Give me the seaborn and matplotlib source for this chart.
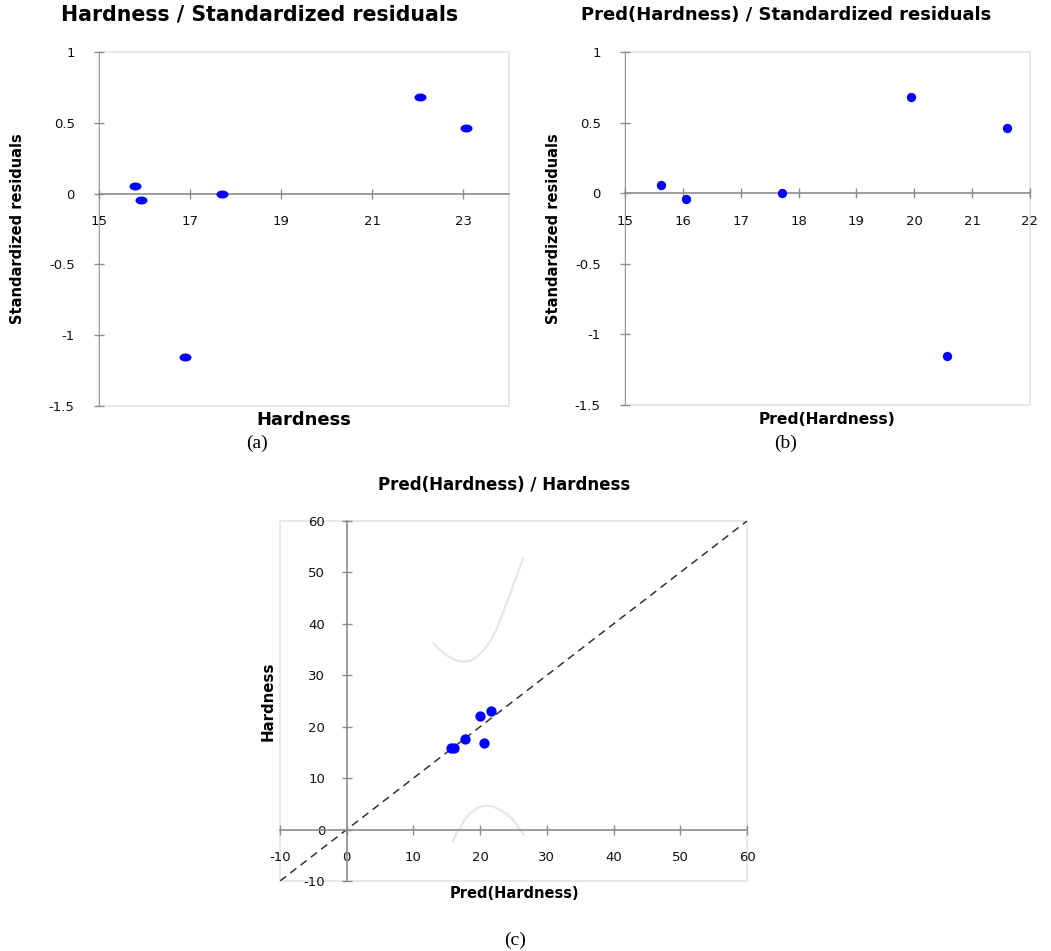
import numpy as np
import pandas as pd
import matplotlib
matplotlib.use('Agg')
import matplotlib.pyplot as plt
from matplotlib.patches import Rectangle
from matplotlib.path import Path
import seaborn as sns

# Daten
hardness = [15.80, 15.93, 17.70, 22.05, 23.05, 16.88]
pred_hardness = [15.62, 16.05, 17.71, 19.94, 21.60, 20.57]
std_resid = [0.055, -0.044, 0.0, 0.68, 0.462, -1.155]

# Konfidenzkurven (Diagramm c)
upper_x = [12.96, 14.0, 14.97, 16.2, 17.46, 18.5, 19.47, 20.5, 21.47, 22.5, 23.46, 24.2, 24.96, 25.7, 26.46]
upper_y = [36.2, 34.9, 33.9, 33.0, 32.6, 32.8, 33.6, 34.8, 36.5, 39.0, 42.3, 44.8, 47.5, 50.1, 52.8]
lower_x = [15.87, 16.4, 16.97, 17.7, 18.47, 19.6, 20.72, 21.9, 22.97, 23.9, 24.72, 25.4, 25.97, 26.57]
lower_y = [-2.33, -0.9, 0.27, 1.9, 3.18, 4.2, 4.66, 4.5, 3.83, 3.1, 2.21, 1.1, -0.06, -1.03]
diag = [-10, 60]

df = pd.DataFrame({'Hardness': hardness, 'Pred': pred_hardness, 'Resid': std_resid})

sns.set_style('white')
plt.rcParams['font.family'] = ['DejaVu Sans']
plt.rcParams['axes.unicode_minus'] = False
plt.rcParams['text.color'] = 'black'

W, H = 1051, 951
fig = plt.figure(figsize=(W / 100, H / 100), dpi=100)

AXIS = '#8c8c8c'
FRAME = '#e4e4e4'
BLUE = '#0000ff'

# Ellipsen-Marker
t = np.linspace(0, 2 * np.pi, 40)
ell = Path(np.column_stack([1.5 * np.cos(t), np.sin(t)]), closed=True)


def frame_axes(ax):
    for s in ax.spines.values():
        s.set_visible(False)
    ax.add_patch(Rectangle((0, 0), 1, 1, transform=ax.transAxes, fill=False,
                           edgecolor=FRAME, lw=1.2, zorder=0, clip_on=False))
    ax.tick_params(direction='inout', length=7, width=1, color=AXIS,
                   labelsize=9.5, labelcolor='#111111', bottom=True, left=True)


def resid_plot(rect, xcol, xlim, xticks, title, tsize, tx, xlabel, xsize, ylx,
               caption, cap_x, marker, msize):
    ax = fig.add_axes(rect)
    sns.scatterplot(data=df, x=xcol, y='Resid', ax=ax, color=BLUE, marker=marker,
                    s=msize, edgecolor=BLUE, linewidth=0, zorder=3)
    ax.set_xlim(*xlim)
    ax.set_ylim(-1.5, 1)
    frame_axes(ax)
    ax.axvline(xlim[0], color=AXIS, lw=1.2, zorder=1)
    ax.spines['bottom'].set_visible(True)
    ax.spines['bottom'].set_position(('data', 0))
    ax.spines['bottom'].set_color(AXIS)
    ax.spines['bottom'].set_linewidth(1.2)
    ax.set_xticks(xticks)
    ax.set_xticklabels([str(v) for v in xticks])
    ax.set_yticks([-1.5, -1, -0.5, 0, 0.5, 1])
    ax.set_yticklabels(['-1.5', '-1', '-0.5', '0', '0.5', '1'])
    ax.tick_params(axis='x', pad=12)
    ax.tick_params(axis='y', pad=14)
    ax.set_xlabel('')
    ax.set_ylabel('')
    cx = rect[0] + rect[2] / 2
    fig.text(ylx / W, 1 - 229 / H, 'Standardized residuals', rotation=90, ha='center',
             va='center', fontsize=10.5, fontweight='bold')
    fig.text(cx, 1 - 420 / H, xlabel, ha='center', va='center', fontsize=xsize,
             fontweight='bold')
    fig.text(cap_x / W, 1 - 443 / H, caption, ha='center', va='center', fontsize=14,
             family='Liberation Serif')
    fig.text(tx / W, 1 - 15 / H, title, ha='center', va='center', fontsize=tsize,
             fontweight='bold')
    return ax


resid_plot([99 / W, 1 - 406 / H, 410 / W, 354 / H], 'Hardness', (15, 24),
           [15, 17, 19, 21, 23], 'Hardness / Standardized residuals', 14.8, 260,
           'Hardness', 13, 18, '(a)', 257, ell, 75)
resid_plot([625 / W, 1 - 405 / H, 405 / W, 353 / H], 'Pred', (15, 22),
           [15, 16, 17, 18, 19, 20, 21, 22], 'Pred(Hardness) / Standardized residuals',
           13, 786, 'Pred(Hardness)', 11.2, 553, '(b)', 786, 'o', 45)

# Diagramm (c)
axc = fig.add_axes([280 / W, 1 - 881 / H, 467 / W, 360 / H])
sns.lineplot(x=upper_x, y=upper_y, ax=axc, color='#e6e6e6', lw=1.6, sort=False, zorder=1)
sns.lineplot(x=lower_x, y=lower_y, ax=axc, color='#e6e6e6', lw=1.6, sort=False, zorder=1)
sns.lineplot(x=diag, y=diag, ax=axc, color='#333333', lw=1.1, zorder=2,
             linestyle=(0, (5, 3.5)))
sns.scatterplot(data=df, x='Pred', y='Hardness', ax=axc, color=BLUE, s=55,
                edgecolor=BLUE, linewidth=0, zorder=3)
axc.set_xlim(-10, 60)
axc.set_ylim(-10, 60)
frame_axes(axc)
for side in ['bottom', 'left']:
    axc.spines[side].set_visible(True)
    axc.spines[side].set_position(('data', 0))
    axc.spines[side].set_color(AXIS)
    axc.spines[side].set_linewidth(1.2)
ticks_c = [-10, 0, 10, 20, 30, 40, 50, 60]
axc.set_xticks(ticks_c)
axc.set_yticks(ticks_c)
axc.tick_params(axis='x', pad=12)
axc.tick_params(axis='y', pad=12)
axc.set_xlabel('')
axc.set_ylabel('')
fig.text(268 / W, 1 - 701 / H, 'Hardness', rotation=90, ha='center', va='center',
         fontsize=10.8, fontweight='bold')
fig.text(514 / W, 1 - 894 / H, 'Pred(Hardness)', ha='center', va='center',
         fontsize=10.5, fontweight='bold')
fig.text(504 / W, 1 - 485 / H, 'Pred(Hardness) / Hardness', ha='center', va='center',
         fontsize=12, fontweight='bold')
fig.text(515 / W, 1 - 940 / H, '(c)', ha='center', va='center', fontsize=14,
         family='Liberation Serif')

fig.savefig('out.png', dpi=100)
